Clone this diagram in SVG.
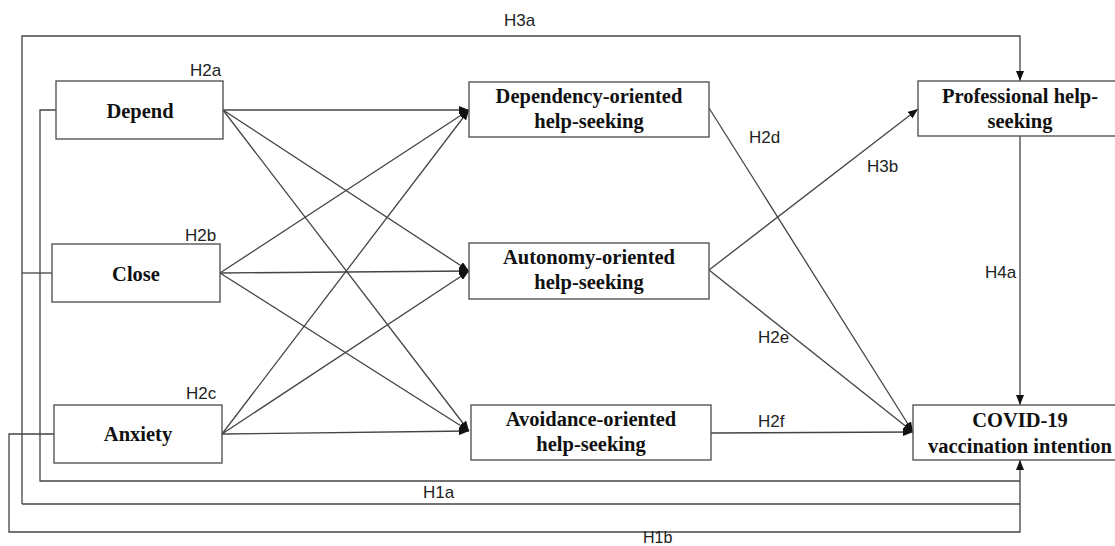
<svg xmlns="http://www.w3.org/2000/svg" width="1115" height="546" viewBox="0 0 1115 546">
<style>
.box{fill:#fff;stroke:#555;stroke-width:1.4}
.t{font-family:"Liberation Serif","Times New Roman",serif;font-weight:bold;font-size:20.5px;fill:#111;text-anchor:middle}
.h{font-family:"Liberation Sans",Arial,sans-serif;font-size:17px;fill:#222}
.c{fill:none;stroke:#444;stroke-width:1.3}
</style>
<defs>
<marker id="a" markerUnits="userSpaceOnUse" markerWidth="10" markerHeight="8" viewBox="0 0 10 8" refX="10" refY="4" orient="auto">
<path d="M0,0 L10,4 L0,8 z" fill="#111"/>
</marker>
</defs>
<g id="connectors">
<polyline class="c" points="22,504 22,36 1020,36 1020,81" marker-end="url(#a)"/>
<line class="c" x1="22" y1="273" x2="52" y2="273"/>
<polyline class="c" points="56,110 40,110 40,481 1020,481"/>
<polyline class="c" points="22,504 1020,504"/>
<polyline class="c" points="54,434 9,434 9,532 1020,532 1020,460" marker-end="url(#a)"/>
<line class="c" x1="1020" y1="136" x2="1020" y2="405" marker-end="url(#a)"/>
<line class="c" x1="223" y1="110" x2="469" y2="110" marker-end="url(#a)"/>
<line class="c" x1="223" y1="110" x2="469" y2="271" marker-end="url(#a)"/>
<line class="c" x1="223" y1="110" x2="469" y2="431" marker-end="url(#a)"/>
<line class="c" x1="220" y1="273" x2="469" y2="110" marker-end="url(#a)"/>
<line class="c" x1="220" y1="273" x2="469" y2="271" marker-end="url(#a)"/>
<line class="c" x1="220" y1="273" x2="469" y2="431" marker-end="url(#a)"/>
<line class="c" x1="222" y1="434" x2="469" y2="110" marker-end="url(#a)"/>
<line class="c" x1="222" y1="434" x2="469" y2="271" marker-end="url(#a)"/>
<line class="c" x1="222" y1="434" x2="469" y2="431" marker-end="url(#a)"/>
<line class="c" x1="709" y1="108" x2="913" y2="432" marker-end="url(#a)"/>
<line class="c" x1="709" y1="270" x2="913" y2="432" marker-end="url(#a)"/>
<line class="c" x1="711" y1="433" x2="913" y2="432" marker-end="url(#a)"/>
<line class="c" x1="709" y1="270" x2="918" y2="109" marker-end="url(#a)"/>
</g>
<g id="depend"><rect class="box" x="56" y="81" width="167" height="58"/><text class="t" x="140" y="118">Depend</text></g>
<g id="close"><rect class="box" x="52" y="244" width="168" height="58"/><text class="t" x="136" y="281">Close</text></g>
<g id="anxiety"><rect class="box" x="54" y="405" width="168" height="58"/><text class="t" x="138" y="441">Anxiety</text></g>
<g id="dependency"><rect class="box" x="469" y="82" width="240" height="55"/><text class="t" x="589" y="103">Dependency-oriented</text><text class="t" x="589" y="128">help-seeking</text></g>
<g id="autonomy"><rect class="box" x="469" y="243" width="240" height="56"/><text class="t" x="589" y="264">Autonomy-oriented</text><text class="t" x="589" y="289">help-seeking</text></g>
<g id="avoidance"><rect class="box" x="471" y="405" width="240" height="55"/><text class="t" x="591" y="426">Avoidance-oriented</text><text class="t" x="591" y="451">help-seeking</text></g>
<g id="professional"><rect class="box" x="918" y="81" width="204" height="55"/><text class="t" x="1020" y="103">Professional help-</text><text class="t" x="1020" y="128">seeking</text></g>
<g id="covid"><rect class="box" x="913" y="405" width="209" height="55"/><text class="t" x="1020" y="427">COVID-19</text><text class="t" x="1020" y="453">vaccination intention</text></g>
<g id="labels">
<text class="h" x="504" y="26">H3a</text>
<text class="h" x="190" y="76">H2a</text>
<text class="h" x="185" y="241">H2b</text>
<text class="h" x="186" y="399">H2c</text>
<text class="h" x="749" y="143">H2d</text>
<text class="h" x="867" y="172">H3b</text>
<text class="h" x="758" y="343">H2e</text>
<text class="h" x="758" y="427">H2f</text>
<text class="h" x="985" y="278">H4a</text>
<text class="h" x="423" y="498">H1a</text>
<text class="h" x="643" y="543" style="font-size:16px">H1b</text>
</g>
</svg>
